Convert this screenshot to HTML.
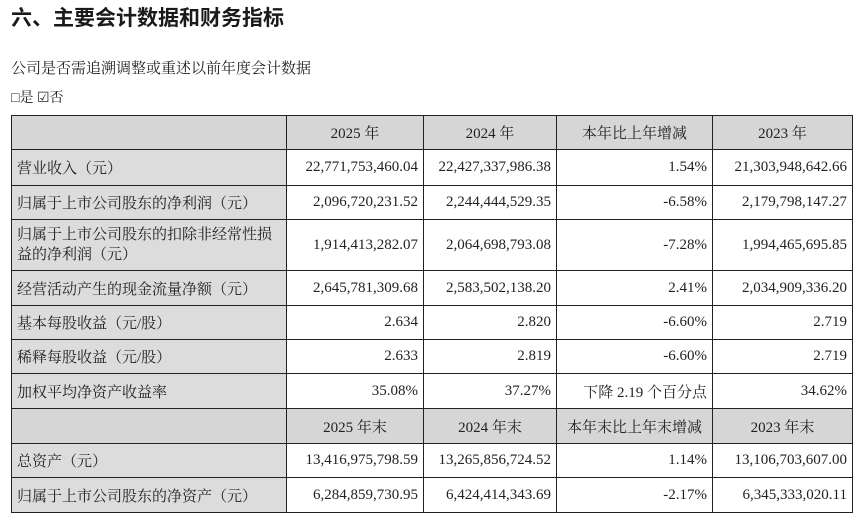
<!DOCTYPE html>
<html><head><meta charset="utf-8"><style>
body{margin:0;width:856px;height:521px;background:#fff;overflow:hidden;font-family:"Liberation Serif","Noto Serif CJK SC",serif;color:#222;position:relative}
.t{position:absolute;left:11px;top:2px;font-size:21px;font-weight:bold;font-family:"Liberation Sans","Noto Sans CJK SC",sans-serif;color:#1a1a1a}
.s{position:absolute;left:11px;top:57px;font-size:15px}
.c{position:absolute;left:11px;top:87px;font-size:14px}
table{position:absolute;left:11px;top:115px;border-collapse:collapse;font-size:15px}
td{border:1.5px solid #222;padding:0 5px;text-align:right;white-space:nowrap}
td:first-child{text-align:left;background:#dcdcdc}
tr.h td{background:#d6d6d6;text-align:center}
</style></head><body>
<div class="t">六、主要会计数据和财务指标</div>
<div class="s">公司是否需追溯调整或重述以前年度会计数据</div>
<div class="c">□是 ☑否</div>
<table>
<colgroup><col style="width:275px"><col style="width:137px"><col style="width:133px"><col style="width:156px"><col style="width:140px"></colgroup>
<tr class="h" style="height:34px"><td></td><td>2025 年</td><td>2024 年</td><td>本年比上年增减</td><td>2023 年</td></tr>
<tr style="height:36px"><td>营业收入（元）</td><td>22,771,753,460.04</td><td>22,427,337,986.38</td><td>1.54%</td><td>21,303,948,642.66</td></tr>
<tr style="height:34px"><td>归属于上市公司股东的净利润（元）</td><td>2,096,720,231.52</td><td>2,244,444,529.35</td><td>-6.58%</td><td>2,179,798,147.27</td></tr>
<tr style="height:51px"><td style="line-height:20px">归属于上市公司股东的扣除非经常性损<br>益的净利润（元）</td><td>1,914,413,282.07</td><td>2,064,698,793.08</td><td>-7.28%</td><td>1,994,465,695.85</td></tr>
<tr style="height:35px"><td>经营活动产生的现金流量净额（元）</td><td>2,645,781,309.68</td><td>2,583,502,138.20</td><td>2.41%</td><td>2,034,909,336.20</td></tr>
<tr style="height:34px"><td>基本每股收益（元/股）</td><td>2.634</td><td>2.820</td><td>-6.60%</td><td>2.719</td></tr>
<tr style="height:34px"><td>稀释每股收益（元/股）</td><td>2.633</td><td>2.819</td><td>-6.60%</td><td>2.719</td></tr>
<tr style="height:35px"><td>加权平均净资产收益率</td><td>35.08%</td><td>37.27%</td><td>下降 2.19 个百分点</td><td>34.62%</td></tr>
<tr class="h" style="height:35px"><td></td><td>2025 年末</td><td>2024 年末</td><td>本年末比上年末增减</td><td>2023 年末</td></tr>
<tr style="height:34px"><td>总资产（元）</td><td>13,416,975,798.59</td><td>13,265,856,724.52</td><td>1.14%</td><td>13,106,703,607.00</td></tr>
<tr style="height:35px"><td>归属于上市公司股东的净资产（元）</td><td>6,284,859,730.95</td><td>6,424,414,343.69</td><td>-2.17%</td><td>6,345,333,020.11</td></tr>
</table>
</body></html>
